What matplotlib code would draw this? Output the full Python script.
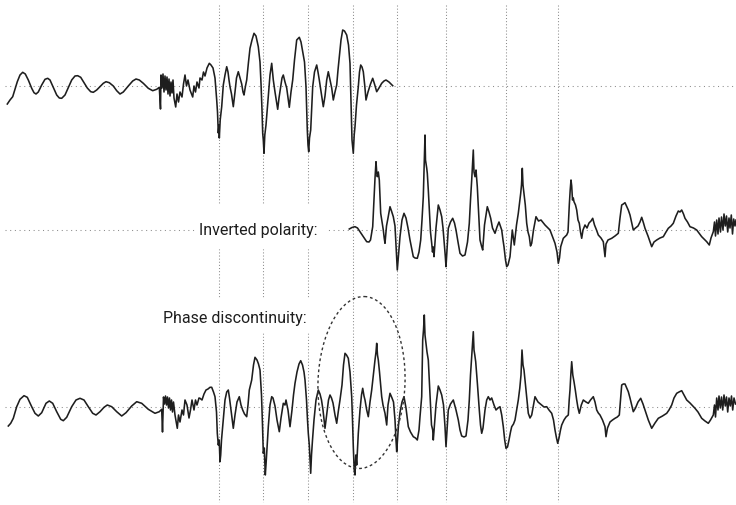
import numpy as np
import matplotlib.pyplot as plt
from matplotlib.patches import Ellipse, Rectangle

# waveform samples: (time, amplitude), amplitude positive up
original = [
    (7.3, -18.0), (10.0, -14.0), (12.7, -10.7), (15.0, -3.3), (17.3, 4.3), (20.0, 11.0),
    (22.7, 13.7), (25.3, 12.0), (28.3, 6.0), (31.7, -2.3), (34.0, -6.7), (36.0, -8.0),
    (38.3, -6.0), (41.7, 1.0), (45.0, 6.7), (47.7, 7.7), (50.0, 6.0), (53.3, -1.3),
    (56.7, -9.0), (59.3, -12.0), (61.7, -12.3), (65.0, -9.0), (68.3, -1.7), (71.7, 6.0),
    (75.0, 10.0), (77.7, 10.3), (80.7, 8.7), (84.0, 3.3), (87.3, -2.0), (90.7, -5.7),
    (93.3, -6.3), (96.7, -4.0), (100.0, -0.7), (103.3, 2.7), (106.0, 4.3), (109.3, 3.3),
    (113.3, 0.0), (116.7, -4.7), (120.0, -8.0), (123.3, -6.0), (128.3, 0.0), (132.7, 5.0),
    (136.0, 7.0), (139.3, 6.0), (143.3, 2.7), (148.3, -2.3), (152.7, -4.7), (156.7, -3.3),
    (159.3, -1.3), (160.5, -23), (161, 11), (162, -2), (163, 12), (164, -6), (165, 10),
    (166, -4), (167, 9), (168, -8), (169, 7), (170, -10), (171, 4), (172, -7), (173, 6),
    (174, -12), (175.7, -21), (177, -8), (178.5, -16), (180, -6), (182, -11), (183.5, 2),
    (185, 11), (186.5, 0), (188, 6), (190, -4), (192.7, -11), (194, 0), (195.5, -6),
    (197, 4), (199, -2), (200, 8), (202, 6), (203.5, 14), (205, 10), (207, 18),
    (209.3, 22.7), (211, 21), (213, 18), (215, 8), (216.7, -14), (217.5, -26),
    (218.3, -47), (219, -39), (219.3, -52), (220.2, -34), (221.7, -20.7), (223.3, 1),
    (225, 11), (226.7, 19.3), (228, 14), (229, 6), (230, -0.7), (231.5, -8),
    (233.3, -20.7), (235, -6), (236.5, 8), (238.3, 14.3), (240, 8), (241.7, 2),
    (243, -6), (244, -9), (245.5, 0), (246.7, 6), (248.5, 24), (250, 37.7), (252, 46),
    (254, 52.7), (256, 50), (258.3, 39.3), (260, 24), (261, 2.7), (262, -24),
    (262.7, -47.3), (263.3, -54), (264, -67.3), (264.8, -49), (266, -39), (268.3, -10.7),
    (270, 11), (271.7, 22.7), (273.3, 6), (275, -6), (277.7, -23.3), (279, -12),
    (280.7, -0.7), (282, 8), (283.3, 11), (285, 4), (286.7, -2), (289.3, -21.3),
    (291, -6), (292.7, 6), (294.5, 26), (296.7, 46), (299.3, 48.7), (301, 44),
    (302.7, 34.3), (304.5, 24), (306, -0.7), (307.3, -44), (308, -59), (308.7, -65.7),
    (309.5, -52), (310.7, -44), (312.7, -0.7), (314.5, 14), (316.7, 21), (318, 14),
    (319.3, 6), (321.5, -9), (323.3, -20.7), (325, -10), (326.7, 6), (328.3, 14.3),
    (330, 6), (331.7, -2), (333.3, -14), (335, -6), (336.7, 1), (338, 16), (339.3, 29.3),
    (341, 46), (342.7, 56), (344.5, 55), (346.7, 51), (348.5, 41), (350, 22.7),
    (351, -14), (352, -54), (353.3, -67.3), (354.2, -49), (355, -40.7), (356.5, -19),
    (358.3, -0.7), (359.5, 14), (360.7, 21), (362, 19), (363.3, 14.3), (364.7, 1),
    (366, -14), (368, -6), (370.5, 2), (372.7, 7.7), (374.5, 2), (376.7, -5.7),
    (379, -2), (381.7, 2.7), (384, 5), (386, 6), (389, 4), (392.7, 0.3),
]

inverted = [
    (349.3, 1), (352, 2.5), (355, 3.3), (357.5, 2), (360, -1.7), (363, -6), (366.7, -11.7),
    (369, -12), (370.5, -10), (372.7, 3.3), (374, 30), (375, 51.7), (376, 68.3),
    (376.7, 58), (377.3, 53.3), (378.3, 58), (379.3, 50), (380.7, 16.7), (382, 8),
    (383.3, 0), (384.2, -8), (385, -13.3), (386.5, 4), (388, 12), (390, 23.3),
    (391.5, 19), (393.3, 13.3), (395, 4), (396.3, -20), (397.3, -40), (398.5, -25),
    (400, -6.7), (402, 10), (404, 16.7), (406, 12), (408, 2), (410, -10), (413.3, -26.7),
    (415, -28), (417.3, -28.3), (419, -22), (420.7, -10), (422, 10), (423.3, 33.3),
    (424.2, 65), (425, 95), (425.5, 70), (426, 66.7), (426.7, 62), (427.3, 56.7),
    (428.3, 40), (429.3, 20), (430.5, -2), (431.7, -13.3), (432.5, -22), (433.3, -17),
    (434, -26.7), (436, 2), (438.3, 25), (440, 20), (441.7, 13.3), (443, 2), (444, -10),
    (445.2, -25), (446, -36.7), (447, -20), (448.3, 1.7), (450.5, 8), (452.7, 11.7),
    (454.5, 7), (456, 0), (458, -12), (460, -23.3), (462.5, -26), (465, -25),
    (467.5, -12), (469.3, 6.7), (470.5, 30), (471.7, 50), (473.3, 80), (474, 58),
    (475, 53.3), (476, 60), (477.3, 43.3), (478.7, 15), (480, -10), (481.5, -16),
    (482.7, -20), (484.5, 5), (487.3, 23.3), (489, 18), (490.7, 11.7), (492.5, 2),
    (495, -3.3), (497, 3), (499, 8), (501.7, 0), (503, -10), (504, -16.7), (505.5, -30),
    (506.7, -36.7), (508, -35), (510, -26.7), (512.3, 0), (514.3, -15), (516.5, 5),
    (518.3, 16.7), (520.7, 36.7), (521.5, 45), (522.3, 61.7), (523, 45), (524, 36.7),
    (525.3, 25), (526.7, 6.7), (528, -2), (529.3, -6.7), (530.5, -16), (531.7, -13.3),
    (533.5, 0), (536, 13.3), (538.5, 9), (541, 10), (545, 5), (550, 0), (553, -8),
    (555, -13.3), (557, -22), (558.3, -33.3), (559.5, -28), (560.7, -16.7),
    (563.3, -8.3), (566.7, -5), (568, -2), (569.3, 25), (570.2, 40), (571, 50),
    (571.7, 44), (572.5, 30), (573.3, 32), (574, 28.3), (575.5, 25), (576.7, 20),
    (578, 10), (579.3, 6.7), (580.5, -2), (581.7, -8.3), (583, 0), (585, 5), (587, 2),
    (589, 7), (591, 9), (592.7, 11.7), (594.5, 5), (596.5, 0), (598.3, -5), (601, -8),
    (603.3, -11.7), (604.2, -20), (605, -26.7), (606, -14), (608, -10), (611.7, -8.3),
    (615, -6), (618.3, -3.3), (620, 12), (621.7, 25), (623.3, 26), (625, 27.3),
    (626.5, 24), (628.3, 20), (630, 15), (631.5, 8), (633.3, 0), (635.5, 2), (638, 4),
    (640, 8), (641.7, 12.7), (643.5, 7), (645, 1.7), (648, -6), (651.7, -16.7),
    (654, -12), (656.7, -10), (660, -8), (663.3, -6.7), (666, -2), (668.3, 1.7),
    (671, 4), (673.3, 6.7), (676, 14), (678.3, 19), (680, 18), (681.7, 20),
    (683.5, 16), (685, 11.7), (687.5, 8), (690, 3.3), (693.5, 2), (696.7, 0), (699, -3),
    (701.7, -6.7), (704, -9), (706.7, -11.7), (709.3, -15), (711, -8), (713.3, -1.7),
    (714.5, 8), (715.5, -6), (716.7, 10), (718, -4), (719, 12), (720.5, -2), (721.5, 13),
    (723, 0), (724, 16), (725.3, 4), (726.5, 14), (727.7, -2), (729, 12), (730, 2),
    (731.3, 15), (732.5, -4), (733.7, 11), (735, 4), (736, 10),
]

spliced = [
    (8.3, -19), (10.7, -16.3), (13.3, -11.3), (16.7, 0.3), (20, 7.7), (24, 11.3),
    (27.3, 9.7), (31.7, 0.3), (35, -6.3), (38.3, -9), (41.7, -5.7), (46, 3.7), (49.3, 6),
    (52.7, 3.7), (56.7, -4.7), (60.7, -12.3), (63.3, -13.7), (66.7, -10.3), (71.7, 0.3),
    (76, 7), (80, 8.7), (84, 7), (88.3, 0.3), (92.7, -6.3), (96, -8), (100, -4.7),
    (104, -0.3), (107.3, 2), (111.7, 0.3), (116.7, -4.7), (121.7, -9), (126, -5.7),
    (131.7, 1), (136.7, 5.3), (141.7, 3.7), (148.3, -2.3), (155, -6.3), (159.3, -4.7),
    (161.7, -2.3), (162.5, -25), (163.5, 10), (164.5, 3), (165.5, 11), (166.5, 2),
    (167.5, 10), (168.5, -1), (169.5, 9), (170.5, -3), (171.5, 7), (172.5, -5),
    (173.5, 5), (175, -8), (177.3, -21.3), (178.5, -8), (180, -15), (182, -3),
    (183.5, -8), (185, 7), (187, 2), (189, -11), (190.5, -3), (192, 7), (194, -3),
    (195.5, 7), (197, 2), (199, 9), (200, 8.7), (202, 7), (204, 13), (206, 17), (208, 18),
    (210, 19.7), (211.7, 19.7), (213.5, 15), (215, 10.3), (216.5, -5), (217.3, -26.3),
    (218.3, -38), (219.2, -33), (220, -54.7), (220.7, -48), (221.5, -33), (222.7, -19.7),
    (225, 7), (226.7, 15), (228.3, 17), (229.5, 9), (231, -3), (233.3, -21.3), (235, -8),
    (237, 5), (239.3, 10.3), (241, 2), (242.7, -3), (244.5, -7), (246.7, -9.7), (248, 2),
    (249.3, 17), (251.7, 27), (253.5, 42), (255, 49.7), (257, 47), (258.5, 43), (260, 37),
    (261.5, 12), (262.5, -18), (263.3, -46.3), (264.3, -41), (265.3, -68), (266.3, -53),
    (268.3, -19.7), (270, 2), (271.7, 10.3), (273, 9), (275, 1), (277, -13),
    (279.3, -24.7), (281, -11), (283.3, 3.7), (285, 2), (286, 7), (288, -3),
    (290, -19.7), (292, -3), (293.5, 12), (295, 23.7), (297, 35), (299, 43),
    (300.7, 46.3), (302.5, 42), (304, 35), (305, 27), (306.5, 7), (307.5, -13),
    (308.3, -26.3), (309.3, -38), (310, -53), (310.7, -66.3), (311.5, -48), (312.5, -33),
    (314, -13), (316, 7), (318.3, 17), (320, 13), (321.5, 7), (323, -3), (325, -21.3),
    (327, -5), (328.5, 7), (330, 12), (331.5, 9), (333, 4), (335, -8), (336.7, -16.3),
    (338.5, -3), (340, 7), (342, 22), (343.5, 42), (345, 53.7), (346.5, 52),
    (348.3, 48.7), (350, 35), (351.7, 10.3), (352.5, -13), (353.3, -39.7), (354.2, -63),
    (355, -68), (355.8, -48), (356.7, -58), (358.3, -26.3), (360, -3), (361.5, 12),
    (362.7, 18.7), (364, 11), (365, 7), (366.7, -3), (368.3, -9.7), (370, 5),
    (371.7, 17), (373.3, 32), (375, 47), (376, 55), (376.7, 63.7), (377.5, 52),
    (378.3, 47), (379.5, 35), (381.7, 10.3), (383, 2), (385, -6.3), (386.7, -18),
    (388, 2), (390, 13.7), (392, 9), (393.5, 5), (395, -13), (396, -33), (396.7, -44.7),
    (397.5, -33), (398.5, -18), (400, -5.3), (402, 5), (404, 10.3), (406, -1),
    (408.3, -19.7), (410.5, -25), (413.3, -29.7), (415.5, -31), (417.3, -33), (419, -23),
    (420, -9.7), (421.7, 10.3), (422.7, 67), (423.5, 77), (424.3, 92), (425, 72),
    (426, 63.7), (427, 55), (428.3, 47), (429.3, 27), (430.5, 2), (431.5, -18),
    (432.7, -23), (433.3, -33), (434.5, -18), (436, 2), (438.3, 21), (440, 17),
    (441.7, 12), (443.5, 2), (445, -19.7), (446, -39.7), (447, -23), (448.3, -3),
    (450.5, 3), (453.3, 7), (456, -3), (458.3, -13), (460, -23), (461.7, -29), (464, -30),
    (466, -29), (468, -13), (469.3, 7), (470.5, 32), (471.7, 50.3), (472.5, 62),
    (473.3, 75.3), (474, 57), (474.8, 52), (475.7, 45.3), (477.5, 22), (479.3, -3),
    (480.5, -18), (481.7, -26.3), (483, -21), (485, -3), (486.7, 7), (488.3, 10.3),
    (490, 7), (491.7, 9), (494, 2), (496, -3), (498, -1), (500, 0.3), (501.7, -8),
    (503.3, -19.7), (504.7, -33), (506, -41.3), (507.5, -40), (509, -33), (510.5, -25),
    (511.7, -19.7), (513.5, -17), (515, -13), (516.7, -3), (518.3, 7), (519.8, 19),
    (521, 32), (522, 57), (523, 42), (524, 37), (525.5, 22), (527, 7), (528.3, -6.3),
    (530, -11), (531.7, -8), (533.5, 2), (535, 10.3), (538, 5), (541.7, 2), (544, 0),
    (546.7, 0.3), (549, -3), (551.7, -6.3), (553.5, -13), (555, -23), (556.5, -31),
    (557.7, -36.3), (559, -31), (560.5, -23), (561.7, -18), (564, -13), (566, -10),
    (568.3, -8), (569.2, 7), (570, 17), (570.8, 32), (571.7, 45.3), (572.8, 32),
    (574, 25.3), (575.3, 17), (576.7, 7), (578, -1), (579.3, -6.3), (581.3, 2),
    (583.3, 7), (586, 5), (588.3, 3.7), (590.5, 7), (593.3, 10.3), (595, 5), (596.7, -3),
    (598.3, -6), (600, -8), (602.5, -13), (605, -19.7), (606, -29.7), (607.5, -21),
    (610, -15), (612.5, -13), (615, -11.3), (617.3, -10), (619.3, -8), (620.5, 7),
    (621.7, 22), (623.3, 23), (625, 23), (626.7, 19), (628.3, 15.3), (630, 9),
    (631.7, 2), (633.3, -4.7), (635.5, -1), (638, 5), (640.7, 8.7), (643, 3), (645, -3),
    (648.3, -13), (651.7, -21.3), (655, -16), (658.3, -11.3), (662.5, -9),
    (666.7, -6.3), (669, -3), (671.7, 2), (674, 9), (676.7, 13.7), (679, 15),
    (681.7, 16.3), (684, 12), (686.7, 7), (690, 4), (695, -1.3), (698, -5),
    (701.7, -11.3), (705, -14), (708.3, -16.3), (710.5, -13), (713.3, -8), (714.5, 2),
    (715.5, -10), (716.7, 9), (718, -3), (719, 11), (720.3, -1), (721.5, 10),
    (722.7, -3), (724, 12), (725.3, 1), (726.5, 10), (727.7, -5), (729, 9), (730.3, 1),
    (731.5, 11), (732.7, -3), (734, 9), (735.5, 3),
]

markers = [219, 263, 308, 353, 397, 446, 506, 558]
labels = ["Inverted polarity:", "Phase discontinuity:"]

# layout (page coordinates, y grows downward)
W, H = 736, 505
base_top, base_mid, base_bot = 86, 230, 407
ink = "#1e1e1e"
dot = "#8c8c8c"

fig = plt.figure(figsize=(W / 100, H / 100), dpi=100)
ax = fig.add_axes([0, 0, 1, 1])
ax.set_xlim(0, W)
ax.set_ylim(H, 0)
ax.axis("off")

# dotted guides
for xm in markers:
    ax.plot([xm, xm], [5, 502], color=dot, lw=0.75, ls=(0, (1, 2)), zorder=1)
for b in (base_top, base_mid, base_bot):
    ax.plot([5, W], [b, b], color=dot, lw=0.75, ls=(0, (1, 3.5)), zorder=1)

# white patches behind the captions
ax.add_patch(Rectangle((195, 205), 131, 43, color="white", zorder=2))
ax.add_patch(Rectangle((160, 298), 152, 34, color="white", zorder=2))

font = ["Roboto", "DejaVu Sans"]
ax.text(199, 231, labels[0], family=font, fontsize=11.5, color=ink,
        va="center", ha="left", zorder=3)
ax.text(163, 319, labels[1], family=font, fontsize=11.5, color=ink,
        va="center", ha="left", zorder=3)

for data, base in ((original, base_top), (inverted, base_mid), (spliced, base_bot)):
    arr = np.array(data, dtype=float)
    ax.plot(arr[:, 0], base - arr[:, 1], color=ink, lw=1.15, zorder=4)

ax.add_patch(Ellipse((361.5, 382.5), 87, 172, angle=2, fill=False,
                     edgecolor="#333333", lw=1.0, ls=(0, (2, 2)), zorder=5))

fig.savefig("out.png", dpi=100, facecolor="white")
